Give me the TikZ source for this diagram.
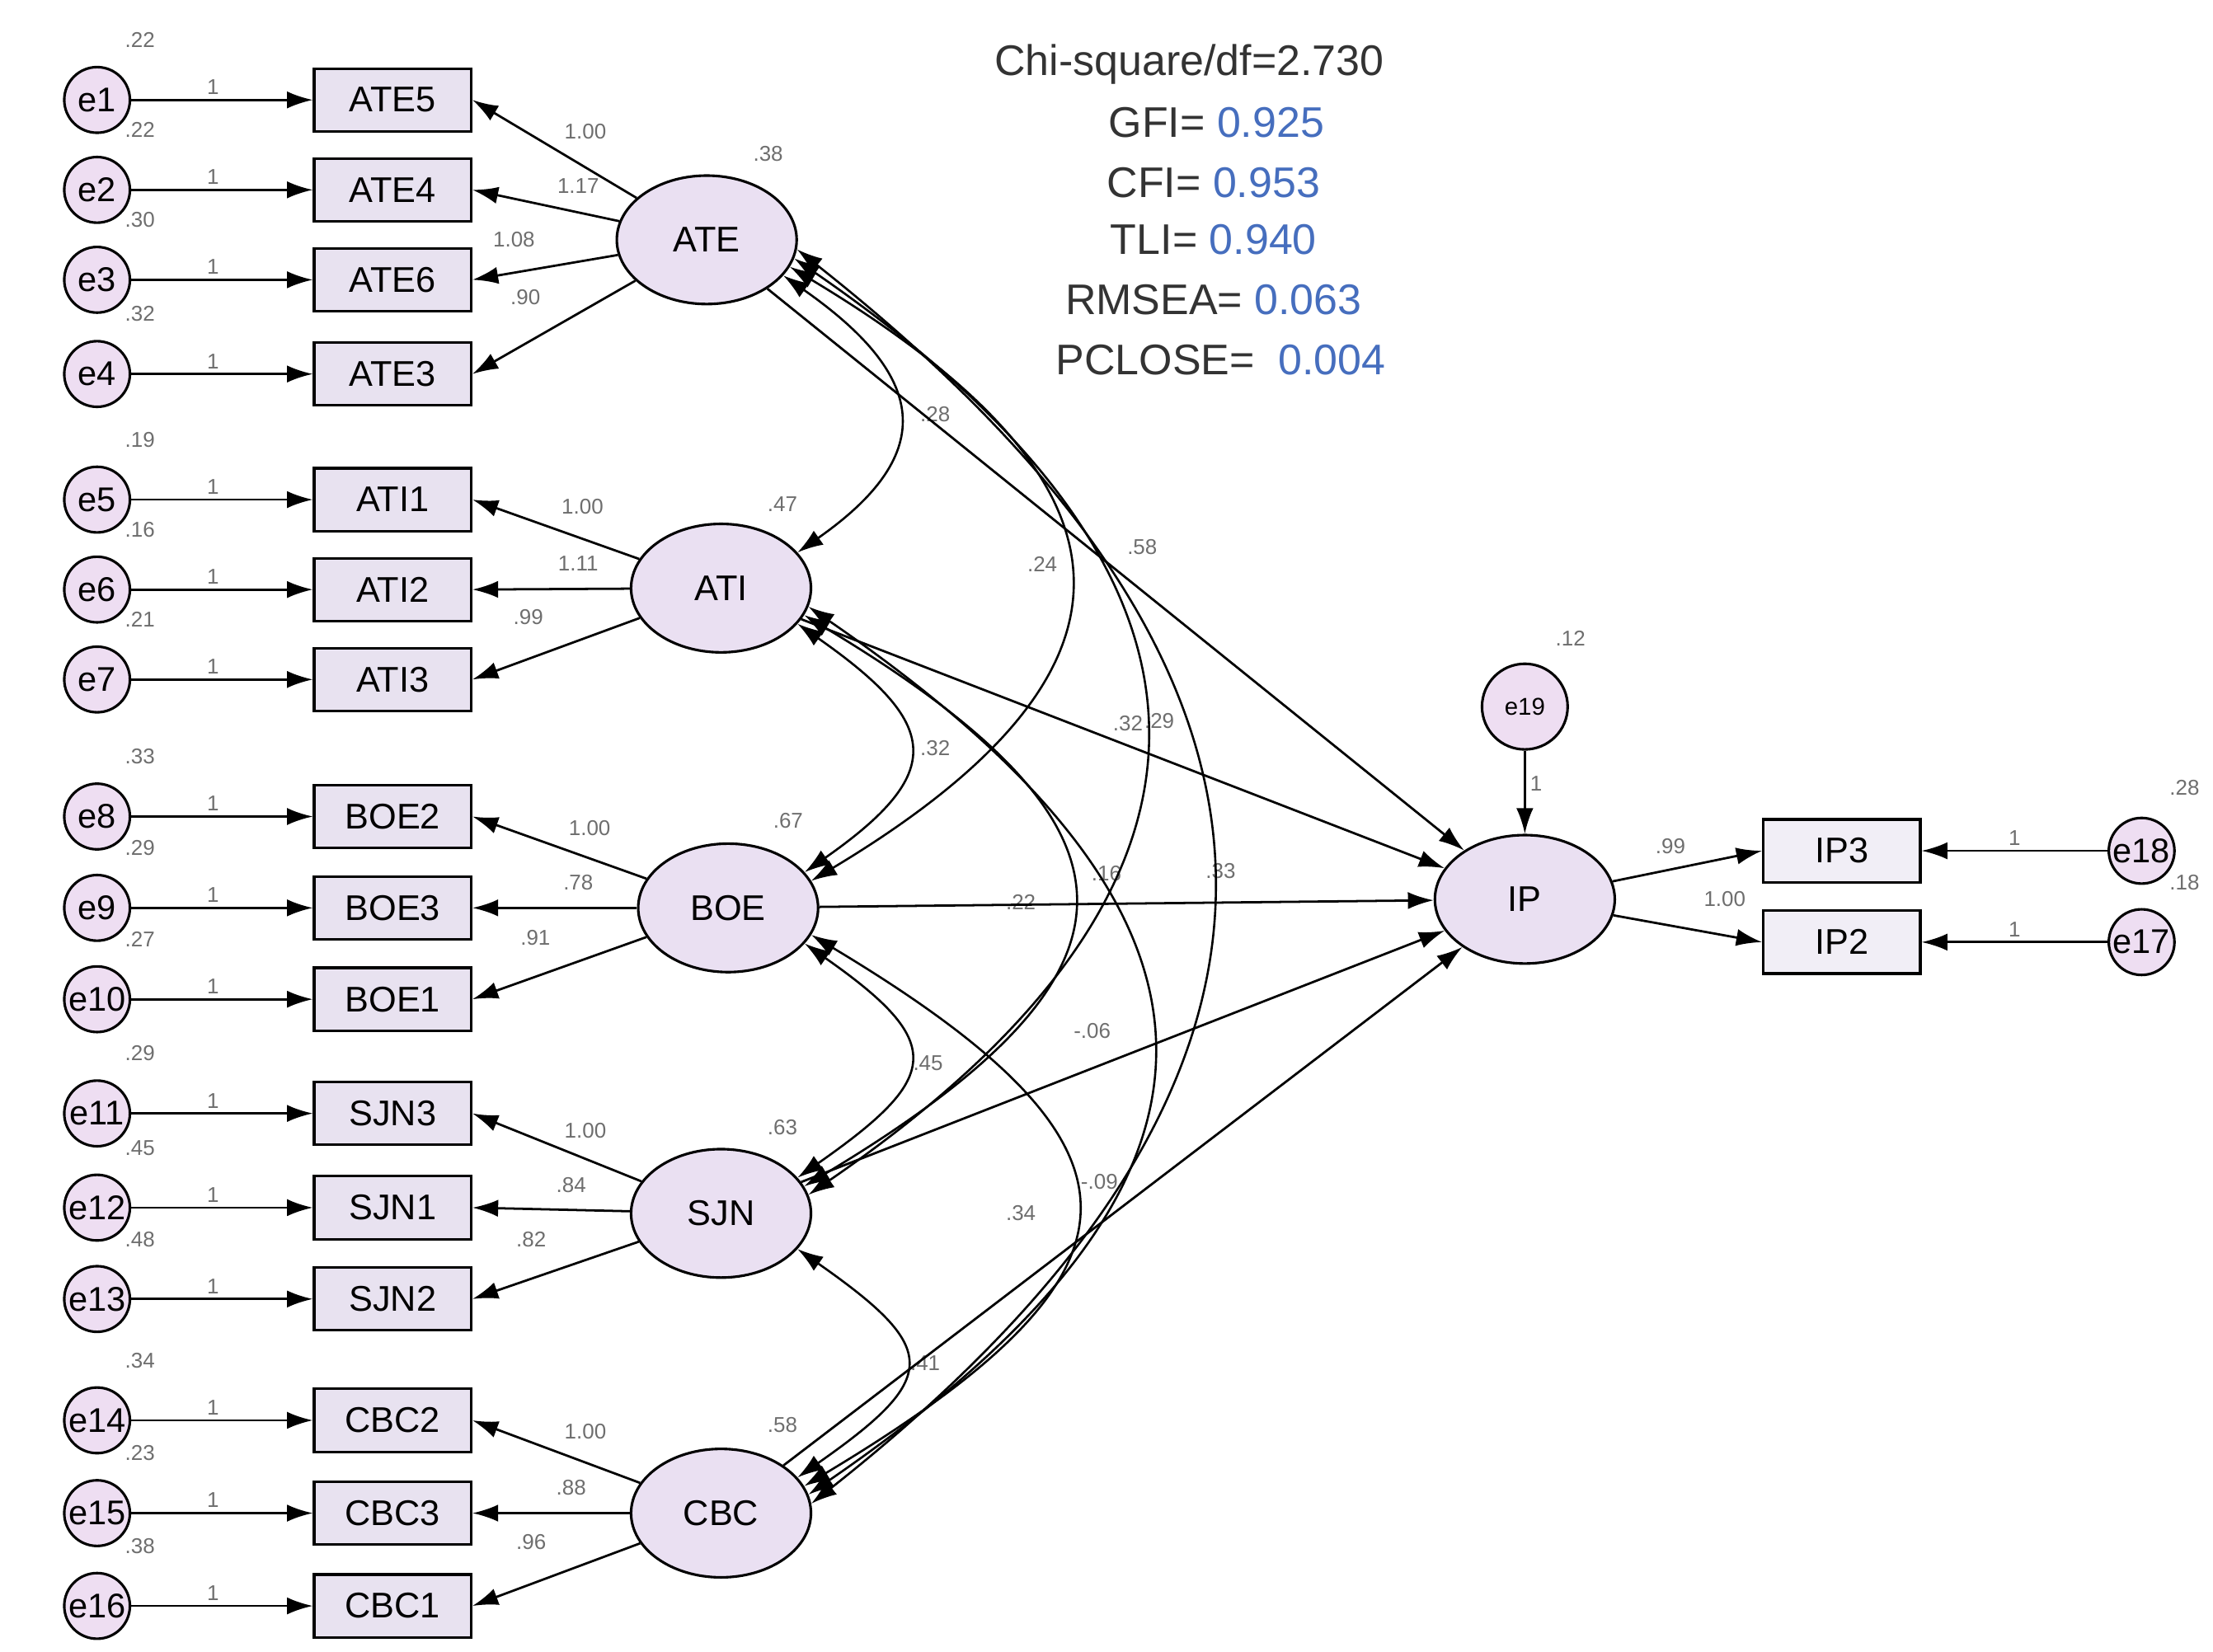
\documentclass[tikz,border=0pt]{standalone}
\usepackage{fontspec}
\setmainfont{Liberation Sans}
\usetikzlibrary{shapes.geometric,arrows.meta}
\definecolor{lat}{RGB}{234,224,242}
\definecolor{obs}{RGB}{232,226,240}
\definecolor{err}{RGB}{238,222,242}
\definecolor{lbl}{RGB}{110,110,110}
\definecolor{val}{RGB}{70,110,190}
\begin{document}
\begin{tikzpicture}[x=1pt,y=-1pt,
 box/.style={draw,line width=1.8pt,fill=obs,minimum width=110pt,minimum height=44pt,inner sep=0pt,font=\fontsize{25}{25}\selectfont},
 err/.style={draw,line width=1.8pt,circle,fill=err,minimum size=46pt,inner sep=0pt,font=\fontsize{24}{24}\selectfont},
 latent/.style={draw,line width=1.8pt,ellipse,fill=lat,minimum width=126pt,minimum height=90pt,inner sep=0pt,font=\fontsize{25}{25}\selectfont},
 lab/.style={text=lbl,font=\fontsize{15}{15}\selectfont,inner sep=1pt},
 fit/.style={font=\fontsize{30}{30}\selectfont,text=black!80},
 arr/.style={line width=1.6pt,-{Latex[length=18pt,width=12pt]}},
 cov/.style={line width=1.5pt,{Latex[length=18pt,width=12pt]}-{Latex[length=18pt,width=12pt]}}]
\useasboundingbox (0,0) rectangle (1550,1157);
% fit indices
\node[fit,anchor=center] (f1) at (833,45) {Chi-square/df=2.730};
\node[fit] (f2) at (852,86) {GFI= \textcolor{val}{0.925}};
\node[fit] (f3) at (850,128) {CFI= \textcolor{val}{0.953}};
\node[fit] (f4) at (850,168) {TLI= \textcolor{val}{0.940}};
\node[fit] (f5) at (850,210) {RMSEA= \textcolor{val}{0.063}};
\node[fit] (f6) at (855,252) {PCLOSE=\ \ \textcolor{val}{0.004}};
% latents
\node[latent] (ATE) at (495,168) {ATE};
\node[latent] (ATI) at (505,412) {ATI};
\node[latent] (BOE) at (510,636) {BOE};
\node[latent] (SJN) at (505,850) {SJN};
\node[latent] (CBC) at (505,1060) {CBC};
\node[latent] (IP) at (1068,630) {IP};
\node[err,minimum size=60pt,font=\fontsize{17}{17}\selectfont] (e19) at (1068,495) {e19};
% indicators
\foreach \n/\y/\e/\ev in {ATE5/70/e1/.22,ATE4/133/e2/.22,ATE6/196/e3/.30,ATE3/262/e4/.32,
 ATI1/350/e5/.19,ATI2/413/e6/.16,ATI3/476/e7/.21,
 BOE2/572/e8/.33,BOE3/636/e9/.29,BOE1/700/e10/.27,
 SJN3/780/e11/.29,SJN1/846/e12/.45,SJN2/910/e13/.48,
 CBC2/995/e14/.34,CBC3/1060/e15/.23,CBC1/1125/e16/.38}{
 \node[box] (\n) at (275,\y) {\n};
 \node[err] (\e) at (68,\y) {\e};
 \node[lab] (v\e) at (98,\y-42) {\ev};
 \draw[arr] (\e) -- (\n) node[lab,pos=0.45,above=2pt] (o\e) {1};
}
\draw[arr] (ATE) -- (ATE3.east);
\foreach \l/\a/\b/\c in {ATE/ATE5/ATE4/ATE6, ATI/ATI1/ATI2/ATI3, BOE/BOE2/BOE3/BOE1, SJN/SJN3/SJN1/SJN2, CBC/CBC2/CBC3/CBC1}{
 \draw[arr] (\l) -- (\a.east);
 \draw[arr] (\l) -- (\b.east);
 \draw[arr] (\l) -- (\c.east);
}
\foreach \t/\x/\y in {1.00/410/92,1.17/405/130,1.08/360/168,.90/368/208,1.00/408/355,1.11/405/395,.99/370/432,1.00/413/580,.78/405/618,.91/375/657,1.00/410/792,.84/400/830,.82/372/868,1.00/410/1003,.88/400/1042,.96/372/1080,
 .38/538/108,.47/548/353,.67/552/575,.63/548/790,.58/548/998,.12/1100/447,.28/1530/552,.18/1530/618,.99/1170/593,1.00/1208/630,
 .28/655/290,.24/730/395,.58/800/383,.32/655/524,.32/790/507,.29/812/505,.16/775/612,.33/855/610,.22/715/632,-.06/765/722,.45/650/745,-.09/770/828,.34/715/850,.41/648/955}
 \node[lab] at (\x,\y) {\t};
% IP side
\node[box,fill=obs!60!white] (IP3) at (1290,596) {IP3};
\node[box,fill=obs!60!white] (IP2) at (1290,660) {IP2};
\node[err] (e18) at (1500,596) {e18};
\node[err] (e17) at (1500,660) {e17};
\draw[arr] (e18) -- (IP3) node[lab,midway,above=2pt] {1};
\draw[arr] (e17) -- (IP2) node[lab,midway,above=2pt] {1};
\draw[arr] (e19) -- (IP) node[lab,pos=0.4,right=2pt] {1};
\draw[arr] (IP) -- (IP3.west);
\draw[arr] (IP) -- (IP2.west);
% structural paths
\draw[arr] (ATE) -- (IP);
\draw[arr] (ATI) -- (IP);
\draw[arr] (BOE) -- (IP);
\draw[arr] (SJN) -- (IP);
\draw[arr] (CBC) -- (IP);
% covariances
\draw[cov] (ATE.-25) .. controls +(100,70) and +(100,-70) .. (ATI.25);
\draw[cov] (ATI.-25) .. controls +(100,70) and +(100,-70) .. (BOE.25);
\draw[cov] (BOE.-25) .. controls +(100,70) and +(100,-70) .. (SJN.25);
\draw[cov] (SJN.-25) .. controls +(100,70) and +(100,-70) .. (CBC.25);
\draw[cov] (ATE.-18) .. controls +(250,150) and +(250,-150) .. (BOE.18);
\draw[cov] (ATI.-18) .. controls +(250,150) and +(250,-150) .. (SJN.18);
\draw[cov] (BOE.-18) .. controls +(250,150) and +(250,-150) .. (CBC.18);
\draw[cov] (ATE.-12) .. controls +(320,220) and +(320,-220) .. (SJN.12);
\draw[cov] (ATI.-12) .. controls +(320,220) and +(320,-220) .. (CBC.12);
\draw[cov] (ATE.-6) .. controls +(380,300) and +(380,-300) .. (CBC.6);
\end{tikzpicture}
\end{document}
